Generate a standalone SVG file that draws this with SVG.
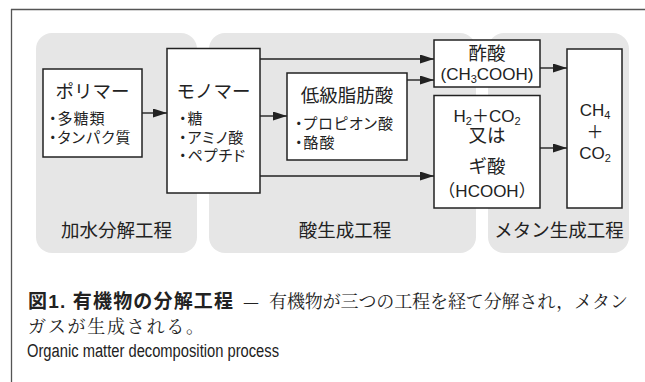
<svg xmlns="http://www.w3.org/2000/svg" width="645" height="382" viewBox="0 0 645 382">
<style>
.panel{fill:#e6e6e6;}
.box{fill:#fff;stroke:#222;stroke-width:1.5;}
.ln{stroke:#222;stroke-width:1.4;fill:none;}
text{fill:#222;font-family:"Liberation Sans","Noto Sans CJK JP",sans-serif;}
.t{font-size:18.5px;text-anchor:middle;}
.b{font-size:15px;font-feature-settings:"palt";letter-spacing:1px;}
.lab{font-size:18.5px;text-anchor:middle;}
.f{font-size:17px;text-anchor:middle;}
.cap{font-size:18px;}
.serif{font-family:"Noto Serif CJK JP","Liberation Serif","Noto Sans CJK JP",serif;}
</style>
<defs>
<marker id="ah" markerUnits="userSpaceOnUse" markerWidth="14" markerHeight="9" refX="14" refY="4.5" orient="auto">
<path d="M0,0 L14,4.5 L0,9 z" fill="#222"/>
</marker>
</defs>
<g id="frame">
<line x1="11" y1="9.5" x2="645" y2="9.5" stroke="#555" stroke-width="1.3"/>
<line x1="11.5" y1="9" x2="11.5" y2="382" stroke="#555" stroke-width="1.3"/>
</g>
<g id="panels">
<rect class="panel" x="36" y="33" width="161" height="220" rx="16"/>
<rect class="panel" x="209" y="33" width="267" height="220" rx="16"/>
<rect class="panel" x="488" y="33" width="141" height="220" rx="16"/>
<text class="lab" x="116.5" y="237">加水分解工程</text>
<text class="lab" x="345" y="237">酸生成工程</text>
<text class="lab" x="559" y="237">メタン生成工程</text>
</g>
<g id="connectors">
<line class="ln" x1="142" y1="113" x2="167" y2="113" marker-end="url(#ah)"/>
<line class="ln" x1="260" y1="116" x2="287" y2="116" marker-end="url(#ah)"/>
<line class="ln" x1="260" y1="59" x2="434" y2="59" marker-end="url(#ah)"/>
<line class="ln" x1="407" y1="80" x2="434" y2="80" marker-end="url(#ah)"/>
<line class="ln" x1="260" y1="176" x2="434" y2="176" marker-end="url(#ah)"/>
<line class="ln" x1="540" y1="68" x2="567" y2="68" marker-end="url(#ah)"/>
<line class="ln" x1="540" y1="148" x2="567" y2="148" marker-end="url(#ah)"/>
</g>
<g id="polymer">
<rect class="box" x="43" y="69" width="99" height="88"/>
<text class="t" x="92.5" y="98">ポリマー</text>
<text class="b" x="49" y="124">・多糖類</text>
<text class="b" x="49" y="143">・タンパク質</text>
</g>
<g id="monomer">
<rect class="box" x="167" y="48.5" width="93" height="144.5"/>
<text class="t" x="213.5" y="98">モノマー</text>
<text class="b" x="179" y="124">・糖</text>
<text class="b" x="179" y="143">・アミノ酸</text>
<text class="b" x="179" y="161">・ペプチド</text>
</g>
<g id="fatty">
<rect class="box" x="287" y="73" width="120" height="87"/>
<text class="t" x="347" y="102">低級脂肪酸</text>
<text class="b" x="295" y="129">・プロピオン酸</text>
<text class="b" x="295" y="148">・酪酸</text>
</g>
<g id="acetic">
<rect class="box" x="434" y="40" width="106" height="47"/>
<text class="t" x="487" y="60">酢酸</text>
<text class="f" x="487" y="80">(CH<tspan font-size="11" dy="3">3</tspan><tspan dy="-3">COOH)</tspan></text>
</g>
<g id="hydrogen">
<rect class="box" x="434" y="95.5" width="106" height="112.5"/>
<text class="f" x="487" y="122">H<tspan font-size="11" dy="3">2</tspan><tspan dy="-3">＋CO</tspan><tspan font-size="11" dy="3">2</tspan></text>
<text class="t" x="487" y="142">又は</text>
<text class="t" x="487" y="173">ギ酸</text>
<text class="f" x="487" y="197">（HCOOH）</text>
</g>
<g id="methane">
<rect class="box" x="567" y="49" width="55" height="159"/>
<text class="f" x="595" y="116">CH<tspan font-size="11" dy="3">4</tspan></text>
<text class="f" x="595" y="138">＋</text>
<text class="f" x="595" y="159">CO<tspan font-size="11" dy="3">2</tspan></text>
</g>
<g id="caption">
<text x="28" y="308" font-size="19" font-weight="bold" textLength="205" lengthAdjust="spacing">図1. 有機物の分解工程</text>
<text class="cap serif" x="243" y="308">—</text>
<text class="cap serif" x="269" y="308" textLength="359" lengthAdjust="spacing">有機物が三つの工程を経て分解され，メタン</text>
<text class="cap serif" x="28" y="333" textLength="176" lengthAdjust="spacing">ガスが生成される。</text>
<text x="27" y="357" font-size="18" textLength="252" lengthAdjust="spacingAndGlyphs">Organic matter decomposition process</text>
</g>
</svg>
